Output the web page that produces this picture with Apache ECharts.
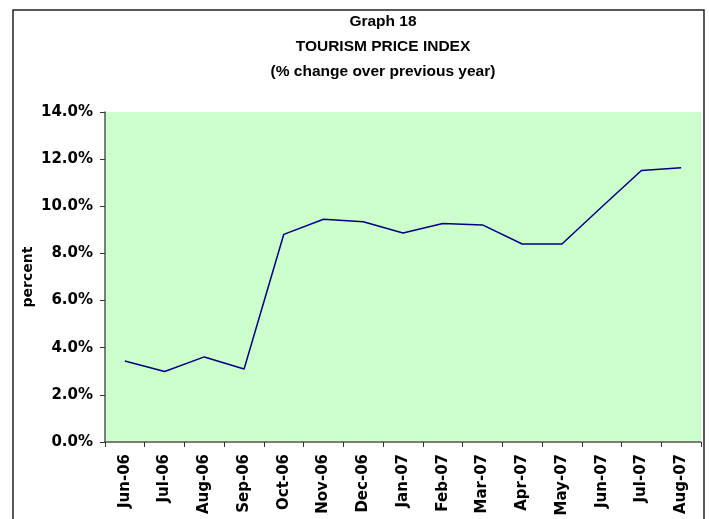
<!DOCTYPE html>
<html><head><meta charset="utf-8">
<script src="https://cdn.jsdelivr.net/npm/echarts@6/dist/echarts.min.js"></script>
<style>html,body{margin:0;padding:0;background:#fff}#c{width:709px;height:519px}</style>
</head><body><div id="c"></div>
<script>
var categories = ['Jun-06','Jul-06','Aug-06','Sep-06','Oct-06','Nov-06','Dec-06','Jan-07','Feb-07','Mar-07','Apr-07','May-07','Jun-07','Jul-07','Aug-07'];
var values = [3.44, 2.99, 3.61, 3.10, 8.81, 9.45, 9.34, 8.87, 9.27, 9.21, 8.40, 8.40, 9.97, 11.52, 11.63];
var yTicks = {min: 0, max: 14, interval: 2};
var titleLines = ['Graph 18', 'TOURISM PRICE INDEX', '(% change over previous year)'];

var chart = echarts.init(document.getElementById('c'));
var font = 'Arial, "Liberation Sans", sans-serif';
var axisFont = '"DejaVu Sans", sans-serif';
chart.setOption({
  animation: false,
  graphic: [
    {type: 'rect', shape: {x: 13, y: 10, width: 691, height: 530}, style: {fill: 'none', stroke: '#222', lineWidth: 1.5}, z: 0},
    {type: 'text', x: 383, y: 21.5, style: {text: titleLines[0], font: 'bold 15.5px ' + font, fill: '#000', textAlign: 'center', textVerticalAlign: 'middle'}},
    {type: 'text', x: 383, y: 46.5, style: {text: titleLines[1], font: 'bold 15.5px ' + font, fill: '#000', textAlign: 'center', textVerticalAlign: 'middle'}},
    {type: 'text', x: 383, y: 71.5, style: {text: titleLines[2], font: 'bold 15.5px ' + font, fill: '#000', textAlign: 'center', textVerticalAlign: 'middle'}}
  ],
  grid: {left: 105, top: 112, right: 8, bottom: 77, show: true, backgroundColor: '#CCFFCC', borderWidth: 0},
  xAxis: {
    type: 'category', data: categories, boundaryGap: true,
    axisLine: {lineStyle: {color: '#555', width: 1.5}},
    axisTick: {show: true, length: 5, lineStyle: {color: '#333'}},
    axisLabel: {rotate: 90, margin: 12, color: '#000', fontWeight: 'bold', fontSize: 15, fontFamily: axisFont, interval: 0}
  },
  yAxis: {
    type: 'value', min: yTicks.min, max: yTicks.max, interval: yTicks.interval,
    name: 'percent', nameLocation: 'middle', nameGap: 70, nameRotate: 90, nameMoveOverlap: false,
    nameTextStyle: {color: '#000', fontWeight: 'bold', fontSize: 14, fontFamily: axisFont},
    axisLine: {show: true, lineStyle: {color: '#555', width: 1.5}},
    axisTick: {show: true, length: 5, lineStyle: {color: '#333'}},
    splitLine: {show: false},
    axisLabel: {margin: 12, color: '#000', fontWeight: 'bold', fontSize: 15, fontFamily: axisFont,
      formatter: function (v) { return v.toFixed(1) + '%'; }}
  },
  series: [{
    type: 'line', data: values, showSymbol: false, symbol: 'none',
    lineStyle: {color: '#000080', width: 1.5}
  }]
});
</script></body></html>
